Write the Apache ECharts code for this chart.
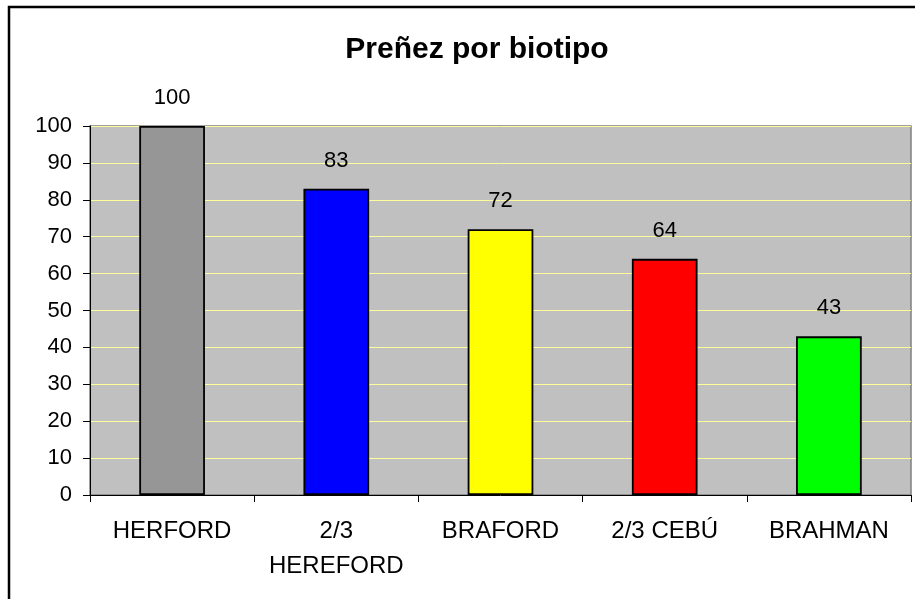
<!DOCTYPE html>
<html><head><meta charset="utf-8">
<script src="https://cdn.jsdelivr.net/npm/echarts@6/dist/echarts.min.js"></script>
<style>html,body{margin:0;padding:0;background:#fff}#c{width:915px;height:599px}</style>
</head><body><div id="c"></div>
<script>
const categories = ['HERFORD', '2/3\nHEREFORD', 'BRAFORD', '2/3 CEBÚ', 'BRAHMAN'];
const values = [100, 83, 72, 64, 43];
const barColors = ['#969696', '#0000FF', '#FFFF00', '#FF0000', '#00FF00'];
const chart = echarts.init(document.getElementById('c'));
const font = 'Liberation Sans, Arial, sans-serif';
chart.setOption({
  animation: false,
  title: {
    text: 'Preñez por biotipo', left: 472, top: 30, textAlign: 'center',
    textStyle: {fontFamily: font, fontWeight: 'bold', fontSize: 30, color: '#000'}
  },
  graphic: [{
    type: 'rect', shape: {x: 9, y: 7, width: 1200, height: 1200},
    style: {fill: 'none', stroke: '#000', lineWidth: 2.5}, z: 100
  }],
  grid: {left: 90, right: 4, top: 126, bottom: 104, show: true,
    backgroundColor: '#C0C0C0', borderColor: '#808080', borderWidth: 1.5},
  xAxis: {
    type: 'category', data: categories,
    axisLine: {lineStyle: {color: '#000', width: 1}},
    axisTick: {show: true, length: 7, lineStyle: {color: '#000'}},
    axisLabel: {fontFamily: font, fontSize: 24, color: '#000', margin: 19, lineHeight: 35, interval: 0}
  },
  yAxis: {
    type: 'value', min: 0, max: 100, interval: 10,
    axisLine: {show: true, lineStyle: {color: '#000', width: 1}},
    axisTick: {show: true, length: 7, lineStyle: {color: '#000'}},
    axisLabel: {fontFamily: font, fontSize: 22, color: '#000', margin: 18},
    splitLine: {lineStyle: {color: '#FFFF99', width: 1}}
  },
  series: [{
    type: 'bar', data: values, barWidth: '40%',
    itemStyle: {color: p => barColors[p.dataIndex], borderColor: '#000', borderWidth: 1.8},
    label: {show: true, position: 'top', distance: 17, fontFamily: font, fontSize: 22, color: '#000'}
  }]
});
</script></body></html>
